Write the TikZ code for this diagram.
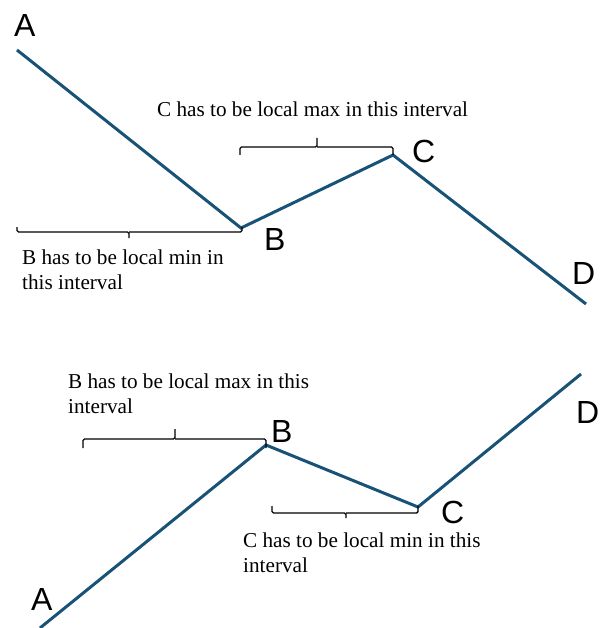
\documentclass[tikz,border=0pt]{standalone}
\usepackage{fontspec}
\setmainfont{Liberation Serif}
\newfontfamily\labfont{Liberation Sans}
\definecolor{curvecol}{RGB}{24,82,118}
\begin{document}
\begin{tikzpicture}[x=1pt,y=-1pt,
  curve/.style={draw=curvecol,line width=3pt},
  bracket/.style={draw=black,line width=1.4pt,rounded corners=1.5pt},
  pt/.style={font=\labfont\fontsize{32}{36}\selectfont,anchor=base west,inner sep=0pt},
  note/.style={font=\fontsize{21.2}{24.5}\selectfont,anchor=base west,inner sep=0pt,align=left}]
\useasboundingbox (0,0) rectangle (607,628);
% top chart
\coordinate (tA) at (17,50);
\coordinate (tB) at (241,228);
\coordinate (tC) at (393,155);
\coordinate (tD) at (586,304);
\draw[curve] (tA) -- (tB) -- (tC) -- (tD);
\node[pt] (lA1) at (14,37) {A};
\node[pt] (lB1) at (264,250) {B};
\node[pt] (lC1) at (412,163) {C};
\node[pt] (lD1) at (572,284) {D};
% bracket B min
\draw[bracket] (17,227) |- (129,232) -- (129,238) (129,232) -| (242,227);
\node[note] (n1) at (22,289) {B has to be local min in\\this interval};
% bracket C max
\draw[bracket] (240,155) |- (317,147) -- (317,138) (317,147) -| (393,155);
\node[note] (n2) at (157,117) {C has to be local max in this interval};
% bottom chart
\coordinate (bA) at (40,628);
\coordinate (bB) at (266,445);
\coordinate (bC) at (418,507);
\coordinate (bD) at (581,374);
\draw[curve] (bA) -- (bB) -- (bC) -- (bD);
\node[pt] (lA2) at (31,610) {A};
\node[pt] (lB2) at (271,442) {B};
\node[pt] (lC2) at (441,523) {C};
\node[pt] (lD2) at (576,423) {D};
% bracket B max
\draw[bracket] (83,448) |- (175,439) -- (175,429) (175,439) -| (266,448);
\node[note] (n3) at (68,413) {B has to be local max in this\\interval};
% bracket C min
\draw[bracket] (272,506) |- (346,513) -- (346,518) (346,513) -| (418,506);
\node[note] (n4) at (243,572) {C has to be local min in this\\interval};
\end{tikzpicture}
\end{document}
